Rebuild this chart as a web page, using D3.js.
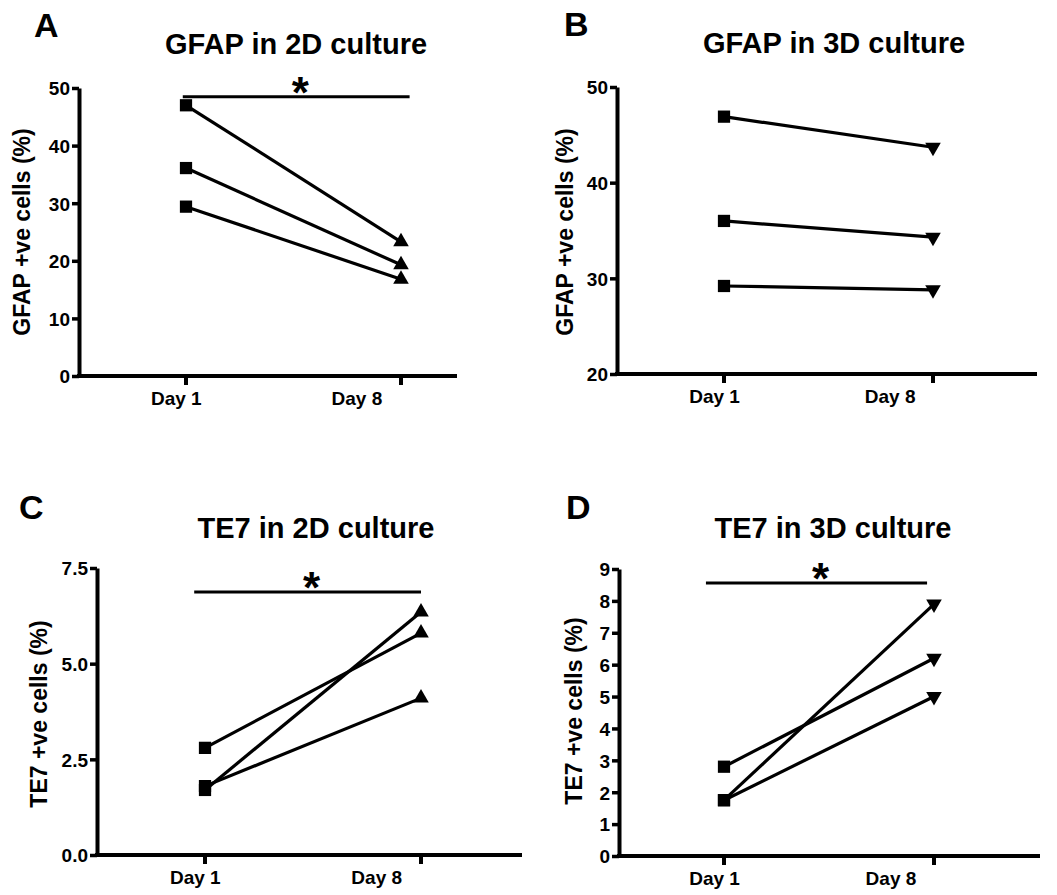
<!DOCTYPE html>
<html>
<head>
<meta charset="utf-8">
<script src="https://cdn.jsdelivr.net/npm/d3@7"></script>
<style>
  body { margin: 0; background: #fff; }
  svg text { font-family: "Liberation Sans", Arial, sans-serif; font-weight: bold; fill: #000; }
</style>
</head>
<body>
<div id="chart-area"></div>
<script>

// Categories
var days = ["Day 1", "Day 8"];

// Each pair is one culture: [Day 1, Day 8]
var gfap2d = [[47.0, 23.3], [36.1, 19.3], [29.4, 16.8]];
var gfap3d = [[46.9, 43.7], [36.0, 34.3], [29.2, 28.8]];
var te72d = [[2.8, 5.8], [1.7, 6.35], [1.8, 4.1]];
var te73d = [[2.8, 6.2], [1.75, 7.9], [1.75, 5.0]];

// Y tick labels
var gfap2dTicks = [0, 10, 20, 30, 40, 50];
var gfap3dTicks = [20, 30, 40, 50];
var te72dTicks = [0, 2.5, 5.0, 7.5];
var te73dTicks = [0, 1, 2, 3, 4, 5, 6, 7, 8, 9];

// Significance bars (y value), null when none
var sigLevels = [48.5, null, 6.87, 8.56];

var width = 1057,
    height = 895;

var svg = d3.select("#chart-area").append("svg")
    .attr("width", width)
    .attr("height", height);

// Panel layout
var panels = [
  { letter: "A", title: "GFAP in 2D culture", ylabel: "GFAP +ve cells (%)", data: gfap2d, ticks: gfap2dTicks, fmt: d3.format("d"),
    sig: sigLevels[0], sigSpan: [-0.015, 1.04], end: "up",
    x0: 79, x1: 457, day1: 186, day8: 401, yTop: 88, yBot: 376,
    titleX: 296, titleY: 54, letterX: 34, letterY: 37, labX: 22, labY: 232 },
  { letter: "B", title: "GFAP in 3D culture", ylabel: "GFAP +ve cells (%)", data: gfap3d, ticks: gfap3dTicks, fmt: d3.format("d"),
    sig: sigLevels[1], sigSpan: null, end: "down",
    x0: 617, x1: 1037, day1: 724, day8: 933, yTop: 87, yBot: 374,
    titleX: 834, titleY: 53, letterX: 564, letterY: 36, labX: 565, labY: 232 },
  { letter: "C", title: "TE7 in 2D culture", ylabel: "TE7 +ve cells (%)", data: te72d, ticks: te72dTicks, fmt: d3.format(".1f"),
    sig: sigLevels[2], sigSpan: [-0.05, 1.0], end: "up",
    x0: 97, x1: 522, day1: 205, day8: 421, yTop: 568, yBot: 855,
    titleX: 316, titleY: 538, letterX: 19, letterY: 519, labX: 39, labY: 714 },
  { letter: "D", title: "TE7 in 3D culture", ylabel: "TE7 +ve cells (%)", data: te73d, ticks: te73dTicks, fmt: d3.format("d"),
    sig: sigLevels[3], sigSpan: [-0.086, 0.967], end: "down",
    x0: 619, x1: 1040, day1: 724, day8: 934, yTop: 569, yBot: 856,
    titleX: 833, titleY: 538, letterX: 566, letterY: 519, labX: 574, labY: 711 }
];

// Day labels sit a little left of their ticks in the original
var labelPos = [-0.045, 0.795];

panels.forEach(function(p) {

  var g = svg.append("g");

  // X scale (day index) and Y scale
  var x = d3.scaleLinear().domain([0, 1]).range([p.day1, p.day8]);
  var y = d3.scaleLinear()
      .domain([p.ticks[0], p.ticks[p.ticks.length - 1]])
      .range([p.yBot, p.yTop]);

  // Y axis
  var yAxis = d3.axisLeft(y)
      .tickValues(p.ticks)
      .tickFormat(p.fmt)
      .tickSizeInner(7)
      .tickSizeOuter(0)
      .tickPadding(2);

  var ya = g.append("g")
      .attr("transform", "translate(" + p.x0 + ",0)")
      .call(yAxis);
  ya.select(".domain").attr("stroke-width", 4);
  ya.selectAll(".tick line").attr("stroke-width", 3.5);
  ya.selectAll(".tick text").style("font-size", "19px").attr("dy", "0.36em");

  // X axis line
  g.append("line")
      .attr("x1", p.x0 - 2).attr("x2", p.x1)
      .attr("y1", p.yBot).attr("y2", p.yBot)
      .attr("stroke", "#000").attr("stroke-width", 4);

  // X ticks
  g.selectAll(".xtick")
    .data(days)
    .enter().append("line")
      .attr("class", "xtick")
      .attr("x1", function(d, i) { return x(i); })
      .attr("x2", function(d, i) { return x(i); })
      .attr("y1", p.yBot).attr("y2", p.yBot + 9)
      .attr("stroke", "#000").attr("stroke-width", 4);

  g.selectAll(".xlabel")
    .data(days)
    .enter().append("text")
      .attr("class", "xlabel")
      .attr("x", function(d, i) { return x(labelPos[i]); })
      .attr("y", p.yBot + 29)
      .attr("text-anchor", "middle")
      .style("font-size", "19px")
      .text(function(d) { return d; });

  // Lines between days
  var line = d3.line()
      .x(function(d, i) { return x(i); })
      .y(function(d) { return y(d); });

  g.selectAll(".pair")
    .data(p.data)
    .enter().append("path")
      .attr("class", "pair")
      .attr("d", line)
      .attr("fill", "none")
      .attr("stroke", "#000")
      .attr("stroke-width", 3.2);

  // Day 1 squares
  g.selectAll(".sq")
    .data(p.data)
    .enter().append("path")
      .attr("class", "sq")
      .attr("d", d3.symbol().type(d3.symbolSquare).size(150))
      .attr("transform", function(d) { return "translate(" + x(0) + "," + y(d[0]) + ")"; })
      .attr("fill", "#000");

  // Day 8 triangles
  g.selectAll(".tri")
    .data(p.data)
    .enter().append("path")
      .attr("class", "tri")
      .attr("d", d3.symbol().type(d3.symbolTriangle).size(105))
      .attr("transform", function(d) {
        return "translate(" + x(1) + "," + y(d[1]) + ")" + (p.end === "down" ? " rotate(180)" : "");
      })
      .attr("fill", "#000");

  // Significance bar and asterisk
  if (p.sig !== null) {
    g.append("line")
        .attr("x1", x(p.sigSpan[0])).attr("x2", x(p.sigSpan[1]))
        .attr("y1", y(p.sig)).attr("y2", y(p.sig))
        .attr("stroke", "#000").attr("stroke-width", 3);
    g.append("text")
        .attr("x", (x(p.sigSpan[0]) + x(p.sigSpan[1])) / 2 + 4)
        .attr("y", y(p.sig) + 11)
        .attr("text-anchor", "middle")
        .style("font-size", "44px")
        .text("*");
  }

  // Title
  g.append("text")
      .attr("x", p.titleX).attr("y", p.titleY)
      .attr("text-anchor", "middle")
      .style("font-size", "29px")
      .text(p.title);

  // Panel letter
  g.append("text")
      .attr("x", p.letterX).attr("y", p.letterY)
      .style("font-size", "34px")
      .text(p.letter);

  // Y axis label
  g.append("text")
      .attr("transform", "translate(" + p.labX + "," + p.labY + ") rotate(-90)")
      .attr("text-anchor", "middle")
      .attr("dy", "0.36em")
      .style("font-size", "23px")
      .text(p.ylabel);
});

</script>
</body>
</html>
